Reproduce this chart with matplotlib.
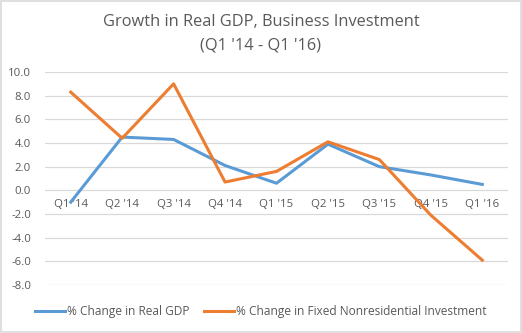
import numpy as np
import matplotlib.pyplot as plt
from matplotlib.patches import Rectangle

quarters = ["Q1 '14", "Q2 '14", "Q3 '14", "Q4 '14", "Q1 '15",
            "Q2 '15", "Q3 '15", "Q4 '15", "Q1 '16"]
real_gdp = [-1.0, 4.5, 4.3, 2.1, 0.6, 3.9, 2.0, 1.3, 0.5]
fixed_nonres = [8.3, 4.4, 9.0, 0.7, 1.6, 4.1, 2.6, -2.1, -5.9]
yticks = np.arange(-8, 11, 2)

text_color = "#595959"
blue = "#5B9BD5"
orange = "#ED7D31"

plt.rcParams["font.family"] = ["Open Sans", "DejaVu Sans"]

fig = plt.figure(figsize=(5.22, 3.33), dpi=100)
ax = fig.add_axes([45 / 522, 1 - 285 / 333, 463 / 522, 213 / 333])

x = np.arange(len(quarters))
ax.plot(x, real_gdp, color=blue, lw=2.2, solid_joinstyle="round",
        label="% Change in Real GDP", zorder=3)
ax.plot(x, fixed_nonres, color=orange, lw=2.2, solid_joinstyle="round",
        label="% Change in Fixed Nonresidential Investment", zorder=3)

ax.set_xlim(-0.5, len(quarters) - 0.5)
ax.set_ylim(-8, 10)
ax.set_yticks(yticks)
ax.set_yticklabels([f"{v:.1f}" for v in yticks])
ax.set_xticks(x)
ax.set_xticklabels(quarters)
ax.yaxis.grid(True, color="#D9D9D9", lw=0.9)
ax.set_axisbelow(True)

# category labels sit on the zero line
ax.spines["bottom"].set_position(("data", 0))
for s in ax.spines.values():
    s.set_visible(False)
ax.tick_params(length=0, colors=text_color, labelsize=8.2)
ax.tick_params(axis="x", pad=6)
ax.tick_params(axis="y", pad=10)

fig.text(0.5, 1 - 22 / 333, "Growth in Real GDP, Business Investment",
         ha="center", va="center", fontsize=11.8, color=text_color)
fig.text(0.5, 1 - 45 / 333, "(Q1 '14 - Q1 '16)",
         ha="center", va="center", fontsize=11.8, color=text_color)

fig.legend(loc="center", bbox_to_anchor=(0.5, 1 - 312 / 333), ncol=2,
           frameon=False, fontsize=8.6, labelcolor=text_color,
           handlelength=2.5, handletextpad=0.2, columnspacing=1.2)

fig.patches.append(Rectangle((0.002, 0.003), 0.996, 0.994,
                             transform=fig.transFigure, fill=False,
                             edgecolor="#D9D9D9", lw=1.2))

fig.savefig("out.png", dpi=100)
